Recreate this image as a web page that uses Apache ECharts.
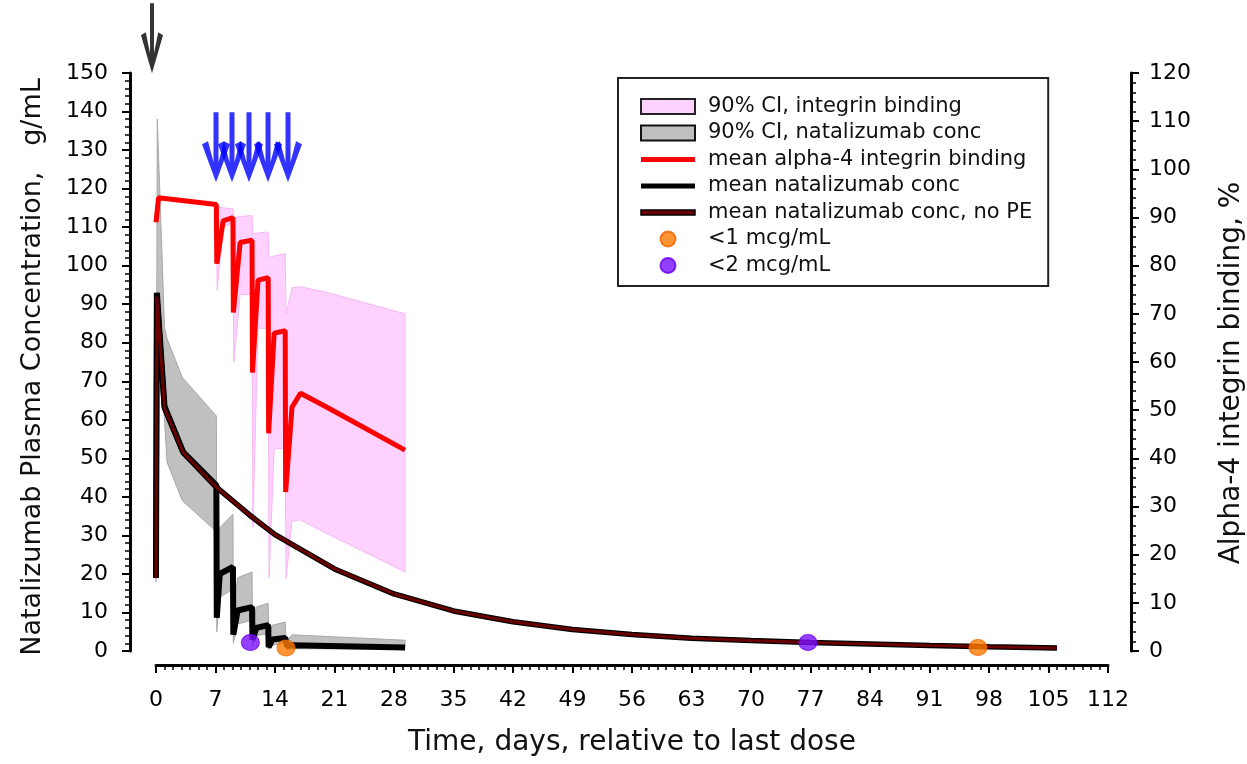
<!DOCTYPE html>
<html>
<head>
<meta charset="utf-8">
<script src="https://cdn.jsdelivr.net/npm/echarts@6/dist/echarts.min.js"></script>
<style>
  html, body { margin: 0; padding: 0; background: #fff; }
  #chart { width: 1247px; height: 764px; }
</style>
</head>
<body>
<div id="chart"></div>
<script>
// ---- data ----
// time axis, days relative to last dose
var xTicks = [0, 7, 14, 21, 28, 35, 42, 49, 56, 63, 70, 77, 84, 91, 98, 105, 112];

// 90% CI of alpha-4 integrin binding (%, right axis)
var pinkDays  = [7.1, 7.2, 7.9, 9.05, 9.15, 9.9, 11.3, 11.4, 12.0, 13.2, 13.3, 13.9, 15.2, 15.3, 16.0, 17.0, 20.0, 29.3];
var pinkUpper = [92.5, 92.3, 92, 91.8, 90, 90.2, 90.4, 86.6, 86.8, 87, 81.7, 82, 82.5, 70, 75.4, 75.6, 74.5, 70];
var pinkLower = [92.5, 75, 88, 89, 60, 74, 74, 25.7, 67, 67, 15.3, 42, 42, 15, 27, 27.2, 24.5, 16.4];

// 90% CI of natalizumab concentration (left axis)
var greyDays  = [0.0, 0.15, 1.0, 1.3, 3.1, 7.1, 7.15, 7.5, 9.05, 9.1, 9.6, 11.3, 11.35, 11.8, 13.2, 13.25, 13.7, 15.2, 15.3, 16.0, 29.3];
var greyUpper = [20, 138, 84, 81, 71, 61, 20, 32, 35.5, 10, 19, 20.5, 5, 11.4, 12.4, 3, 6.7, 7.5, 2.5, 4.2, 2.8];
var greyLower = [18, 85, 60, 49, 39, 31, 5, 14, 16, 2, 7, 8, 1, 4, 4.5, 0.4, 1.5, 2, 0.3, 0.6, 0.5];

// mean alpha-4 integrin binding (%)
var redDays = [0, 0.3, 7.1, 7.15, 7.9, 9.05, 9.1, 9.9, 11.3, 11.35, 12.0, 13.2, 13.25, 13.9, 15.2, 15.25, 16.0, 17.0, 20.0, 29.3];
var redBind = [89, 94.1, 92.7, 80.4, 89.3, 90, 70.3, 84.8, 85.3, 57.8, 77, 77.5, 45.2, 66, 66.5, 33, 50.6, 53.5, 50.7, 41.7];

// mean natalizumab conc
var blackDays = [0, 0.1, 1.0, 3.2, 7.1, 7.15, 7.5, 9.05, 9.1, 9.6, 11.3, 11.35, 11.8, 13.2, 13.25, 13.7, 15.2, 15.4, 16.0, 29.3];
var blackConc = [19, 93, 63.5, 51.6, 43, 8.6, 20, 21.8, 4.2, 10.5, 11.4, 2.9, 6, 6.7, 1.0, 3, 3.4, 1.3, 1.5, 0.9];

// mean natalizumab conc, no PE
var noPeDays = [0, 0.1, 1.0, 3.2, 7.1, 11, 14, 21, 28, 35, 42, 49, 56, 63, 70, 77, 84, 91, 98, 106];
var noPeConc = [19, 92, 63, 51.5, 42.5, 35.3, 30.2, 21.3, 14.8, 10.4, 7.6, 5.6, 4.3, 3.3, 2.7, 2.2, 1.8, 1.4, 1.1, 0.8];

// samples below limits
var lt1Days = [15.3, 96.7];
var lt1Conc = [0.8, 0.9];
var lt2Days = [11.1, 76.7];
var lt2Conc = [2.2, 2.2];

// plasma exchange arrows and last dose arrow
var peDays = [7.06, 8.94, 10.94, 13.18, 15.53];
var peLevel = 130.7;
var doseDays = [0];
var doseLevel = 159;

var FONT = 'DejaVu Sans';
var ARROW = 'path://M11.5,0 L16.5,0 L16.5,50 L22,29 L28,32 L14,70 L0,32 L6,29 L11.5,50 Z';
var BAR = 'path://M0,0 L54,0 L54,5 L0,5 Z';

function pairs(xs, ys) {
  var out = [];
  for (var i = 0; i < xs.length; i++) out.push([xs[i], ys[i]]);
  return out;
}

function bandSeries(name, days, lower, upper, yIndex, fill, edge) {
  return {
    name: name,
    type: 'custom',
    yAxisIndex: yIndex,
    z: 1,
    silent: true,
    itemStyle: { color: fill },
    data: days.map(function (d, i) { return [d, lower[i], upper[i]]; }),
    encode: { x: 0, y: [1, 2] },
    renderItem: function (params, api) {
      if (params.dataIndex !== 0) return null;
      var pts = [];
      for (var i = 0; i < days.length; i++) pts.push(api.coord([days[i], upper[i]]));
      for (var j = days.length - 1; j >= 0; j--) pts.push(api.coord([days[j], lower[j]]));
      return {
        type: 'polygon',
        shape: { points: pts },
        style: { fill: fill, stroke: edge, lineWidth: 1 }
      };
    }
  };
}

function lineSeries(name, xs, ys, yIndex, color, width, z) {
  return {
    name: name,
    type: 'line',
    yAxisIndex: yIndex,
    data: pairs(xs, ys),
    symbol: 'none',
    z: z,
    lineStyle: { color: color, width: width },
    itemStyle: { color: color }
  };
}

function axisCommon() {
  return {
    axisLine: { show: true, onZero: false, lineStyle: { color: '#000', width: 3 } },
    axisTick: { show: true, length: 8, lineStyle: { color: '#000', width: 2 } },
    minorTick: { show: true, length: 5, lineStyle: { color: '#000', width: 1.5 } },
    splitLine: { show: false },
    minorSplitLine: { show: false },
    axisLabel: { color: '#000', fontFamily: FONT, fontSize: 22 }
  };
}

var chart = echarts.init(document.getElementById('chart'));

var xAxis = axisCommon();
xAxis.type = 'value';
xAxis.min = 0;
xAxis.max = 112;
xAxis.interval = 7;
xAxis.offset = 14;
xAxis.minorTick.splitNumber = 7;
xAxis.axisLabel.margin = 24;
xAxis.axisLabel.formatter = function (v) { return xTicks.indexOf(v) >= 0 ? String(v) : ''; };
xAxis.name = 'Time, days, relative to last dose';
xAxis.nameLocation = 'middle';
xAxis.nameGap = 64;
xAxis.nameTextStyle = { color: '#111', fontFamily: FONT, fontSize: 28 };

var yLeft = axisCommon();
yLeft.type = 'value';
yLeft.position = 'left';
yLeft.min = 0;
yLeft.max = 150;
yLeft.interval = 10;
yLeft.offset = 26;
yLeft.minorTick.splitNumber = 5;
yLeft.axisLabel.margin = 22;
yLeft.name = 'Natalizumab Plasma Concentration,   g/mL';
yLeft.nameLocation = 'middle';
yLeft.nameGap = 84;
yLeft.nameTextStyle = { color: '#111', fontFamily: FONT, fontSize: 27, padding: [0, 10, 0, 0] };

var yRight = axisCommon();
yRight.type = 'value';
yRight.position = 'right';
yRight.min = 0;
yRight.max = 120;
yRight.interval = 10;
yRight.offset = 23;
yRight.minorTick.splitNumber = 5;
yRight.axisLabel.margin = 18;
yRight.name = 'Alpha-4 integrin binding, %';
yRight.nameLocation = 'middle';
yRight.nameGap = 87;
yRight.nameTextStyle = { color: '#111', fontFamily: FONT, fontSize: 28, padding: [0, 22, 0, 0] };

var option = {
  backgroundColor: '#fff',
  animation: false,
  grid: { left: 156, right: 139, top: 73, bottom: 113, outerBoundsMode: 'none' },
  legend: {
    orient: 'vertical',
    left: 618,
    top: 78,
    padding: [18, 16, 10, 22],
    borderColor: '#222',
    borderWidth: 2,
    itemWidth: 54,
    itemHeight: 15,
    itemGap: 5.5,
    selectedMode: false,
    textStyle: { color: '#111', fontFamily: FONT, fontSize: 21, lineHeight: 21, padding: [0, 0, 0, 8] },
    data: [
      { name: '90% CI, integrin binding', icon: 'rect', itemStyle: { color: '#ffd1ff', borderColor: '#222', borderWidth: 2 } },
      { name: '90% CI, natalizumab conc', icon: 'rect', itemStyle: { color: '#c0c0c0', borderColor: '#111', borderWidth: 2 } },
      { name: 'mean alpha-4 integrin binding', icon: BAR, itemStyle: { color: '#ff0000', borderWidth: 0 } },
      { name: 'mean natalizumab conc', icon: BAR, itemStyle: { color: '#000000', borderWidth: 0 } },
      { name: 'mean natalizumab conc, no PE', icon: BAR, itemStyle: { color: '#6a0000', borderColor: '#000', borderWidth: 1.5 } },
      { name: '<1 mcg/mL', icon: 'circle' },
      { name: '<2 mcg/mL', icon: 'circle' }
    ]
  },
  xAxis: xAxis,
  yAxis: [yLeft, yRight],
  series: [
    bandSeries('90% CI, integrin binding', pinkDays, pinkLower, pinkUpper, 1, '#ffd1ff', '#f7b8f5'),
    bandSeries('90% CI, natalizumab conc', greyDays, greyLower, greyUpper, 0, '#c0c0c0', '#a8a8a8'),
    lineSeries('mean alpha-4 integrin binding', redDays, redBind, 1, '#ff0000', 5, 3),
    lineSeries('mean natalizumab conc', blackDays, blackConc, 0, '#000000', 6, 4),
    lineSeries('no PE edge', noPeDays, noPeConc, 0, '#000000', 5.5, 5),
    lineSeries('mean natalizumab conc, no PE', noPeDays, noPeConc, 0, '#6a0000', 3, 5),
    {
      name: '<1 mcg/mL', type: 'scatter', yAxisIndex: 0, z: 6,
      data: pairs(lt1Days, lt1Conc), symbol: 'circle', symbolSize: [18, 16],
      itemStyle: { color: '#ff7a00', borderColor: '#e86400', borderWidth: 1 }
    },
    {
      name: '<2 mcg/mL', type: 'scatter', yAxisIndex: 0, z: 6,
      data: pairs(lt2Days, lt2Conc), symbol: 'circle', symbolSize: [18, 16],
      itemStyle: { color: '#7a10ff', borderColor: '#6a00f0', borderWidth: 1 }
    },
    {
      name: 'PE', type: 'scatter', yAxisIndex: 0, z: 7, clip: false, silent: true,
      data: peDays.map(function (d) { return [d, peLevel]; }),
      symbol: ARROW, symbolSize: [28, 70],
      itemStyle: { color: '#0000ff' }
    },
    {
      name: 'dose', type: 'scatter', yAxisIndex: 0, z: 7, clip: false, silent: true,
      data: doseDays.map(function (d) { return [d, doseLevel]; }),
      symbol: ARROW, symbolSize: [22, 70], symbolOffset: [-4, 0],
      itemStyle: { color: '#000000' }
    }
  ]
};

chart.setOption(option);
</script>
</body>
</html>
